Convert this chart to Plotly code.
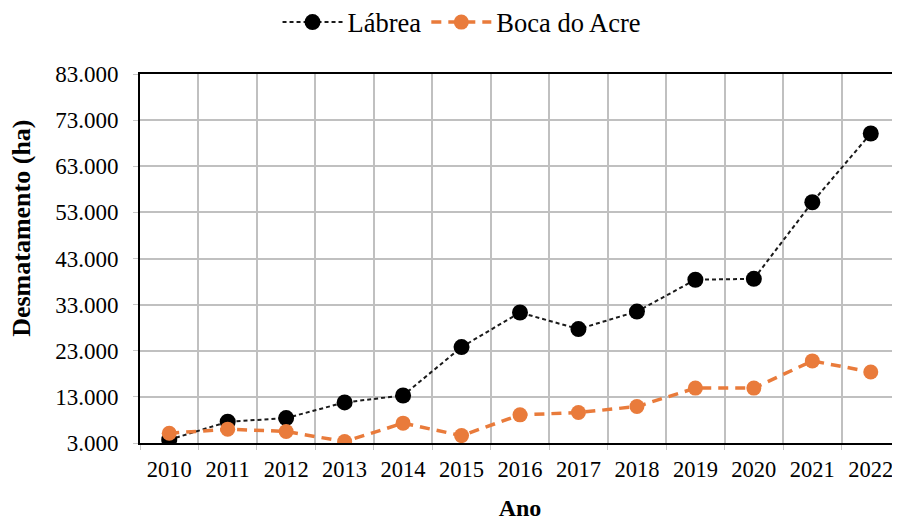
import plotly.graph_objects as go

anos = ["2010", "2011", "2012", "2013", "2014", "2015", "2016",
        "2017", "2018", "2019", "2020", "2021", "2022"]
labrea = [3700, 7600, 8400, 11800, 13300, 23800, 31300,
          27700, 31500, 38400, 38600, 55200, 70100]
boca_do_acre = [5100, 6000, 5500, 3300, 7300, 4600, 9100,
                9600, 10900, 14900, 14900, 20800, 18400]
y_ticks = [3000, 13000, 23000, 33000, 43000, 53000, 63000, 73000, 83000]

FONT = "Liberation Serif, Times New Roman, serif"
ORANGE = "#E97B3B"

fig = go.Figure()
fig.add_trace(go.Scatter(
    x=anos, y=labrea, name="Lábrea", mode="lines+markers",
    line=dict(color="#1a1a1a", width=2, dash="4px,3px"),
    marker=dict(color="black", size=16),
))
fig.add_trace(go.Scatter(
    x=anos, y=boca_do_acre, name="Boca do Acre", mode="lines+markers",
    line=dict(color=ORANGE, width=3.5, dash="10px,7px"),
    marker=dict(color=ORANGE, size=15),
))

# the page body adds an 8px offset, so the figure is 8px smaller and shifted
fig.update_layout(
    width=892, height=513,
    margin=dict(l=132, r=0, t=66, b=78, autoexpand=False),
    paper_bgcolor="white", plot_bgcolor="white",
    separators=",.",
    font=dict(family=FONT, size=22, color="black"),
    showlegend=True,
    legend=dict(
        orientation="h", xref="container", yref="container",
        x=0.509, y=0.972, xanchor="center", yanchor="middle",
        font=dict(family=FONT, size=26.5, color="black"),
        itemwidth=60,
    ),
    xaxis=dict(
        type="category", tickson="boundaries", automargin=False,
        showgrid=True, gridcolor="#C0C0C0", gridwidth=2,
        showline=True, linecolor="black", linewidth=2, mirror=True,
        ticks="outside", ticklen=5, tickcolor="#C8C8C8",
        ticklabelstandoff=5,
        tickfont=dict(family=FONT, size=22.5, color="black"),
        range=[-0.5, 12.5],
        title=dict(text="<b>Ano</b>", font=dict(family=FONT, size=24, color="black"), standoff=21),
    ),
    yaxis=dict(
        range=[3000, 83000], tickvals=y_ticks, tickformat=",", automargin=False,
        showgrid=True, gridcolor="#C0C0C0", gridwidth=2,
        showline=True, linecolor="black", linewidth=2,
        ticks="outside", ticklen=5, tickcolor="#C8C8C8",
        ticklabelstandoff=10,
        tickfont=dict(family=FONT, size=23, color="black"),
        zeroline=False,
    ),
    annotations=[dict(
        text="<b>Desmatamento (ha)</b>", textangle=-90,
        xref="paper", yref="paper", x=-0.1553, y=0.583,
        xanchor="center", yanchor="middle", showarrow=False,
        font=dict(family=FONT, size=26, color="black"),
    )],
)

fig.write_html("out.html")
